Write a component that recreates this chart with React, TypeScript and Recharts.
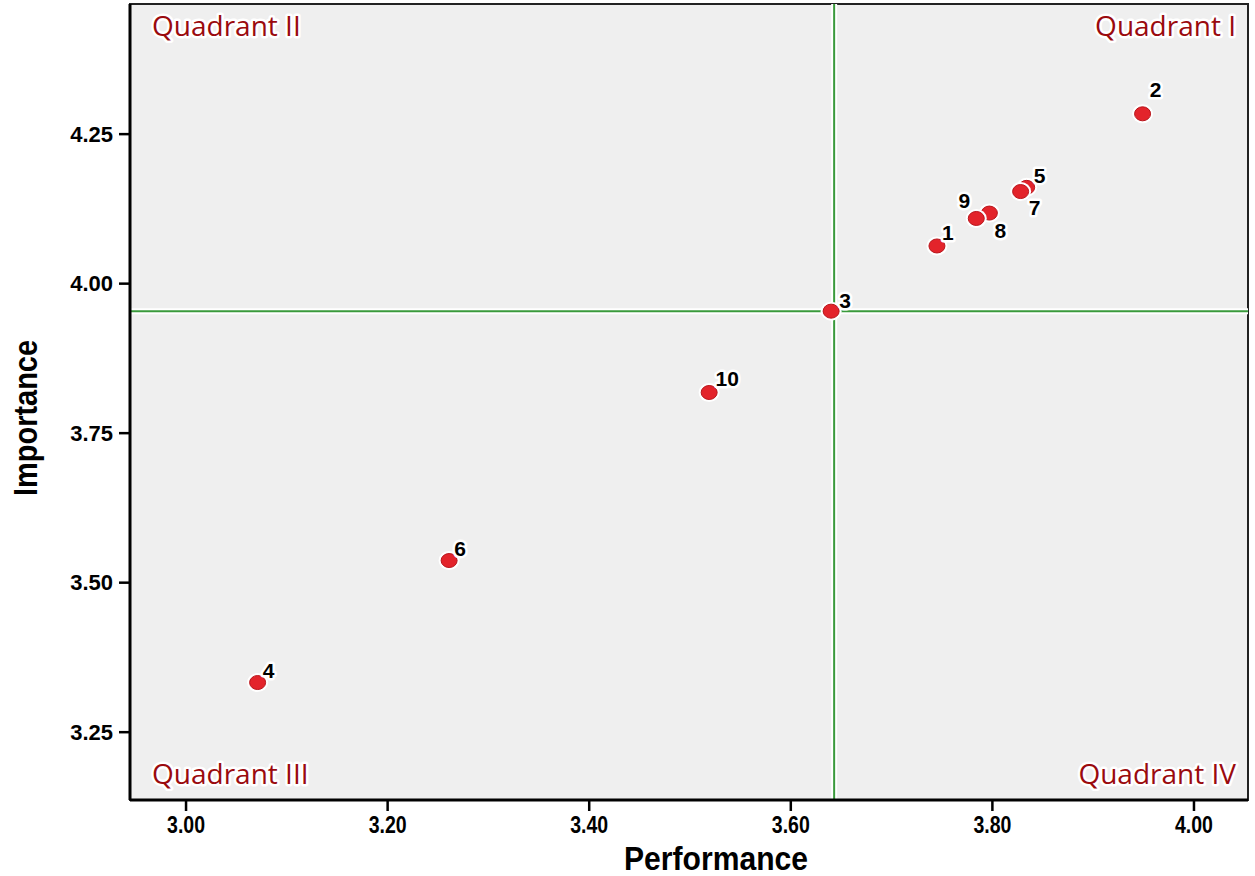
import {
  ScatterChart,
  Scatter,
  XAxis,
  YAxis,
  CartesianGrid,
  ReferenceLine,
  ReferenceArea,
} from 'recharts';

// item numbers and their scores
const itemIds = ['1', '2', '3', '4', '5', '6', '7', '8', '9', '10'];
const performance = [3.745, 3.949, 3.64, 3.071, 3.834, 3.261, 3.828, 3.797, 3.784, 3.519];
const importance = [4.063, 4.284, 3.954, 3.333, 4.161, 3.537, 4.154, 4.118, 4.109, 3.818];

const xTicks = [3.0, 3.2, 3.4, 3.6, 3.8, 4.0];
const yTicks = [3.25, 3.5, 3.75, 4.0, 4.25];

// cut-off lines = grand means
const meanPerformance = 3.643;
const meanImportance = 3.954;

const quadrantNames = ['Quadrant I', 'Quadrant II', 'Quadrant III', 'Quadrant IV'];

// where each number sits relative to its dot
const labelOffset: Record<string, [number, number]> = {
  '1': [11, -13],
  '2': [13, -24],
  '3': [14, -11],
  '4': [11, -12],
  '5': [13, -12],
  '6': [11, -12],
  '7': [14, 16],
  '8': [11, 17],
  '9': [-12, -18],
  '10': [18, -14],
};

const X_DOMAIN: [number, number] = [2.9444, 4.0536];
const Y_DOMAIN: [number, number] = [3.1366, 4.4676];

const data = itemIds.map((id, i) => ({ id, x: performance[i], y: importance[i] }));

const halo = { paintOrder: 'stroke' as const, stroke: '#fff', strokeWidth: 5, strokeLinejoin: 'round' as const };
const FONT = 'Liberation Sans, Arial, sans-serif';

const Dot = (props: any) => {
  const { cx, cy, payload } = props;
  if (cx == null || cy == null) return null;
  const [dx, dy] = labelOffset[payload.id] || [11, -12];
  return (
    <g>
      <ellipse cx={cx} cy={cy} rx={10.5} ry={9.5} fill="#fff" />
      <ellipse cx={cx} cy={cy} rx={8} ry={7} fill="#e3242b" stroke="#b8151b" strokeWidth={1} />
      <text
        x={cx + dx}
        y={cy + dy}
        textAnchor="middle"
        dominantBaseline="central"
        fontFamily={FONT}
        fontWeight={700}
        fontSize={21}
        fill="#000"
        style={halo}
      >
        {payload.id}
      </text>
    </g>
  );
};

const QuadrantLabels = (props: any) => {
  const vb = props.viewBox;
  if (!vb) return null;
  const left = vb.x + 22;
  const right = vb.x + vb.width - 12;
  const top = vb.y + 32;
  const bottom = vb.y + vb.height - 16;
  const common = {
    fontFamily: 'Open Sans, Liberation Sans, sans-serif',
    fontSize: 28,
    fill: '#9a0a0e',
    style: halo,
  };
  return (
    <g>
      <text x={right} y={top} textAnchor="end" {...common}>{quadrantNames[0]}</text>
      <text x={left} y={top} textAnchor="start" {...common}>{quadrantNames[1]}</text>
      <text x={left} y={bottom} textAnchor="start" {...common}>{quadrantNames[2]}</text>
      <text x={right} y={bottom} textAnchor="end" {...common}>{quadrantNames[3]}</text>
    </g>
  );
};

// narrow, bold tick labels like the SPSS output
const XTick = (props: any) => {
  const { x, y, payload } = props;
  return (
    <text
      x={x}
      y={y + 20}
      textAnchor="middle"
      fontFamily={FONT}
      fontWeight={700}
      fontSize={24}
      textLength={38}
      lengthAdjust="spacingAndGlyphs"
      fill="#000"
    >
      {Number(payload.value).toFixed(2)}
    </text>
  );
};

const XTitle = (props: any) => {
  const vb = props.viewBox;
  const cx = vb.x + vb.width / 2 + 27;
  return (
    <text
      x={cx - 92}
      y={vb.y + 70}
      fontFamily={FONT}
      fontWeight={700}
      fontSize={34}
      textLength={184}
      lengthAdjust="spacingAndGlyphs"
      fill="#000"
    >
      Performance
    </text>
  );
};

const YTitle = (props: any) => {
  const vb = props.viewBox;
  const cx = vb.x + 25;
  const cy = vb.y + vb.height / 2 + 16;
  return (
    <text
      x={cx - 78}
      y={cy}
      transform={`rotate(-90 ${cx} ${cy})`}
      dominantBaseline="central"
      fontFamily={FONT}
      fontWeight={700}
      fontSize={34}
      textLength={156}
      lengthAdjust="spacingAndGlyphs"
      fill="#000"
    >
      Importance
    </text>
  );
};

export default function App() {
  return (
    <div style={{ position: 'absolute', left: 0, top: 0, background: '#fff' }}>
      <ScatterChart width={1255} height={876} margin={{ top: 4, right: 7, left: 0, bottom: 0 }}>
        <CartesianGrid fill="#efefef" horizontal={false} vertical={false} />
        <XAxis
          type="number"
          dataKey="x"
          domain={X_DOMAIN}
          ticks={xTicks}
          allowDataOverflow
          height={76}
          tickSize={11}
          axisLine={{ stroke: '#000', strokeWidth: 3 }}
          tickLine={{ stroke: '#000', strokeWidth: 2.5 }}
          tick={<XTick />}
          label={<XTitle />}
        />
        <YAxis
          type="number"
          dataKey="y"
          domain={Y_DOMAIN}
          ticks={yTicks}
          allowDataOverflow
          tickFormatter={(v: number) => v.toFixed(2)}
          width={130}
          tickSize={11}
          tickMargin={6}
          axisLine={{ stroke: '#000', strokeWidth: 3 }}
          tickLine={{ stroke: '#000', strokeWidth: 2.5 }}
          tick={{ fill: '#000', fontSize: 22, fontWeight: 700, fontFamily: FONT }}
          label={<YTitle />}
        />
        <ReferenceLine x={meanPerformance} stroke="#fff" strokeWidth={6} />
        <ReferenceLine y={meanImportance} stroke="#fff" strokeWidth={6} />
        <Scatter data={data} shape={<Dot />} isAnimationActive={false} />
        <ReferenceLine x={meanPerformance} stroke="#3a9a3c" strokeWidth={2} />
        <ReferenceLine y={meanImportance} stroke="#3a9a3c" strokeWidth={2} />
        <ReferenceArea
          x1={X_DOMAIN[0]}
          x2={X_DOMAIN[1]}
          y1={Y_DOMAIN[0]}
          y2={Y_DOMAIN[1]}
          fill="none"
          stroke="#222"
          strokeWidth={2}
          label={<QuadrantLabels />}
        />
      </ScatterChart>
    </div>
  );
}
